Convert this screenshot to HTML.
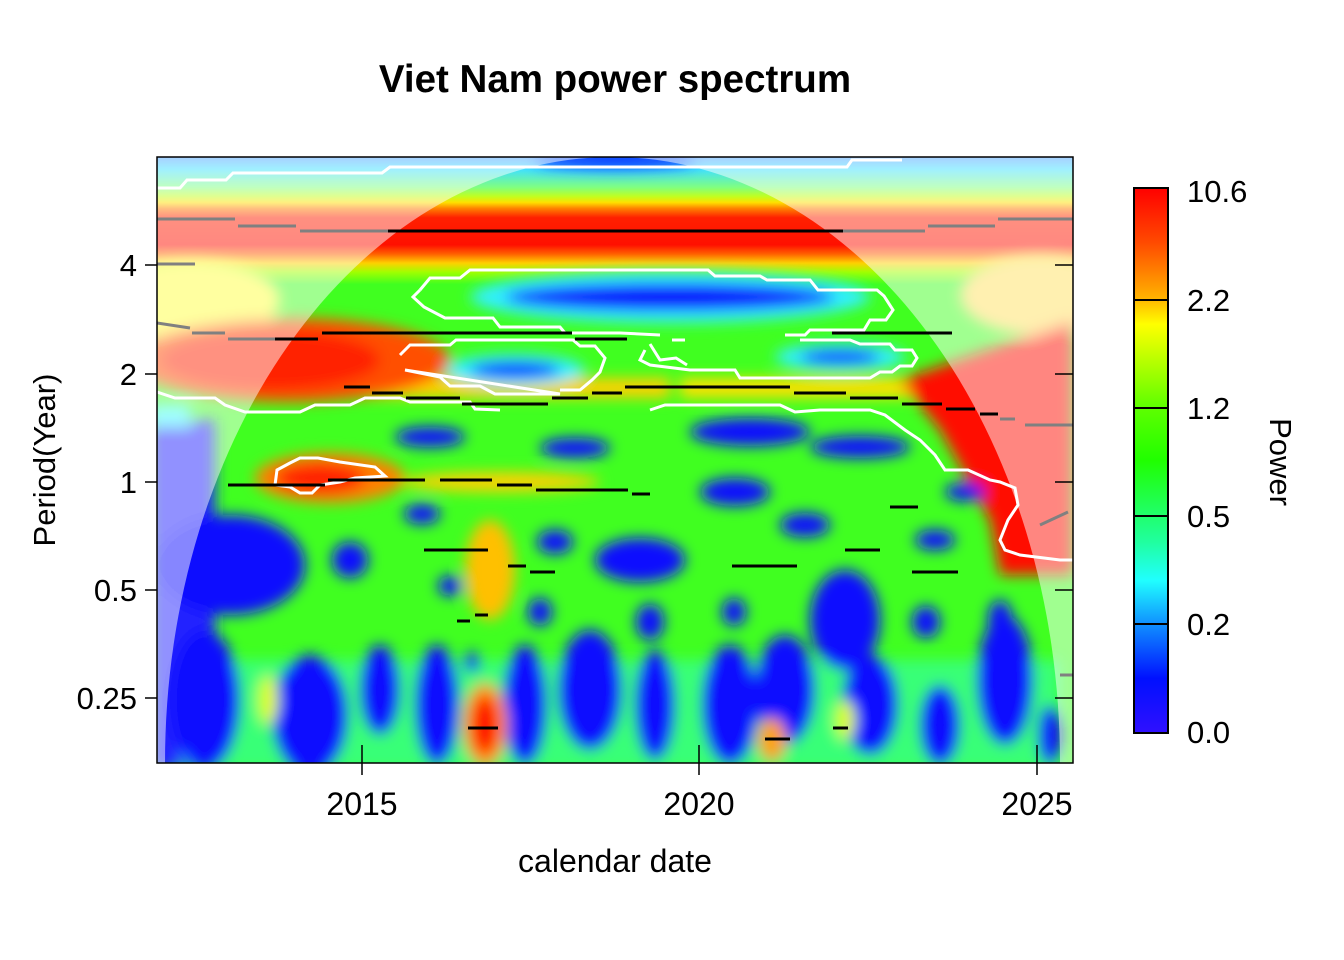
<!DOCTYPE html>
<html><head><meta charset="utf-8"><style>
html,body{margin:0;padding:0;background:#fff;}
svg{display:block;font-family:"Liberation Sans",Arial,sans-serif;}
</style></head><body>
<svg width="1344" height="960" viewBox="0 0 1344 960" xmlns="http://www.w3.org/2000/svg">
<defs>
<filter id="b" x="-20%" y="-20%" width="140%" height="140%"><feGaussianBlur stdDeviation="7"/></filter>
<clipPath id="pc"><rect x="157" y="157" width="916" height="606"/></clipPath>
<linearGradient id="cb" x1="0" y1="0" x2="0" y2="1">
<stop offset="0" stop-color="#ff0000"/>
<stop offset="0.1" stop-color="#ff4a00"/>
<stop offset="0.2" stop-color="#ffb000"/>
<stop offset="0.25" stop-color="#ffff00"/>
<stop offset="0.4" stop-color="#60ff00"/>
<stop offset="0.5" stop-color="#20ff00"/>
<stop offset="0.65" stop-color="#20ffa0"/>
<stop offset="0.72" stop-color="#20ffff"/>
<stop offset="0.8" stop-color="#1090ff"/>
<stop offset="0.9" stop-color="#0010ff"/>
<stop offset="1" stop-color="#3010ff"/>
</linearGradient>
<linearGradient id="topg" x1="0" y1="0" x2="0" y2="1">
<stop offset="0" stop-color="#50a0ff"/>
<stop offset="0.02" stop-color="#40e0ff"/>
<stop offset="0.05" stop-color="#80ff80"/>
<stop offset="0.065" stop-color="#c0ff20"/>
<stop offset="0.075" stop-color="#ffe000"/>
<stop offset="0.085" stop-color="#ff8000"/>
<stop offset="0.1" stop-color="#ff2000"/>
<stop offset="0.145" stop-color="#ff1000"/>
<stop offset="0.16" stop-color="#ff6000"/>
<stop offset="0.175" stop-color="#ffd000"/>
<stop offset="0.19" stop-color="#a0ff00"/>
<stop offset="0.21" stop-color="#40ff20"/>
<stop offset="1" stop-color="#40ff20"/>
</linearGradient>
</defs>
<text x="615" y="92" font-size="38.5" font-weight="bold" text-anchor="middle">Viet Nam power spectrum</text>
<g clip-path="url(#pc)">
<rect x="157" y="157" width="916" height="606" fill="url(#topg)"/>
<g filter="url(#b)">
<ellipse cx="615" cy="160" rx="80" ry="8" fill="#0030ff"/>
<ellipse cx="190" cy="300" rx="90" ry="40" fill="#ffff40"/>
<ellipse cx="1040" cy="295" rx="80" ry="40" fill="#ffe060"/>
<ellipse cx="670" cy="297" rx="200" ry="26" fill="#30f0ff"/>
<ellipse cx="670" cy="297" rx="165" ry="14" fill="#1010ff"/>
<rect x="250" y="378" width="420" height="20" fill="#ffd000"/>
<rect x="680" y="378" width="260" height="20" fill="#ffe000"/>
<ellipse cx="290" cy="360" rx="160" ry="42" fill="#ff5000"/>
<ellipse cx="270" cy="360" rx="110" ry="30" fill="#ff2000"/>
<ellipse cx="515" cy="370" rx="70" ry="16" fill="#30f0ff"/>
<ellipse cx="515" cy="370" rx="45" ry="8" fill="#1010ff"/>
<ellipse cx="840" cy="357" rx="65" ry="14" fill="#30f0ff"/>
<ellipse cx="840" cy="357" rx="40" ry="7" fill="#1010ff"/>
<polygon points="900,380 1073,320 1073,575 1000,575 990,520 940,430" fill="#ff1000"/>
<rect x="150" y="420" width="65" height="350" fill="#2020ff"/>
<rect x="150" y="405" width="40" height="20" fill="#40ffff"/>
<rect x="180" y="660" width="880" height="110" fill="#30ffb0" fill-opacity="0.6"/>
<ellipse cx="330" cy="478" rx="75" ry="25" fill="#ff8000"/>
<ellipse cx="320" cy="478" rx="45" ry="15" fill="#ff2000"/>
<ellipse cx="500" cy="482" rx="100" ry="10" fill="#ffd000"/>
<ellipse cx="490" cy="570" rx="25" ry="50" fill="#ffc000"/>
<ellipse cx="430" cy="437" rx="35" ry="10" fill="#1010ff"/>
<ellipse cx="575" cy="448" rx="35" ry="10" fill="#1010ff"/>
<ellipse cx="750" cy="432" rx="60" ry="14" fill="#1010ff"/>
<ellipse cx="860" cy="447" rx="50" ry="11" fill="#1010ff"/>
<ellipse cx="735" cy="492" rx="35" ry="14" fill="#1010ff"/>
<ellipse cx="965" cy="492" rx="20" ry="9" fill="#1010ff"/>
<ellipse cx="422" cy="514" rx="18" ry="10" fill="#1010ff"/>
<ellipse cx="555" cy="542" rx="18" ry="12" fill="#1010ff"/>
<ellipse cx="805" cy="525" rx="25" ry="12" fill="#1010ff"/>
<ellipse cx="935" cy="540" rx="20" ry="10" fill="#1010ff"/>
<ellipse cx="640" cy="560" rx="45" ry="22" fill="#1010ff"/>
<ellipse cx="230" cy="565" rx="75" ry="50" fill="#1010ff"/>
<ellipse cx="350" cy="560" rx="18" ry="18" fill="#1010ff"/>
<ellipse cx="450" cy="586" rx="12" ry="10" fill="#1010ff"/>
<ellipse cx="540" cy="612" rx="12" ry="14" fill="#1010ff"/>
<ellipse cx="650" cy="622" rx="14" ry="18" fill="#1010ff"/>
<ellipse cx="734" cy="612" rx="12" ry="14" fill="#1010ff"/>
<ellipse cx="845" cy="620" rx="35" ry="50" fill="#1010ff"/>
<ellipse cx="926" cy="622" rx="14" ry="16" fill="#1010ff"/>
<ellipse cx="1000" cy="620" rx="12" ry="20" fill="#1010ff"/>
<ellipse cx="205" cy="700" rx="35" ry="70" fill="#1010ff"/>
<ellipse cx="310" cy="715" rx="38" ry="60" fill="#1010ff"/>
<ellipse cx="380" cy="690" rx="20" ry="45" fill="#1010ff"/>
<ellipse cx="437" cy="705" rx="22" ry="60" fill="#1010ff"/>
<ellipse cx="472" cy="662" rx="8" ry="10" fill="#1010ff"/>
<ellipse cx="525" cy="705" rx="22" ry="60" fill="#1010ff"/>
<ellipse cx="590" cy="690" rx="32" ry="60" fill="#1010ff"/>
<ellipse cx="655" cy="705" rx="20" ry="55" fill="#1010ff"/>
<ellipse cx="730" cy="705" rx="28" ry="60" fill="#1010ff"/>
<ellipse cx="785" cy="690" rx="30" ry="55" fill="#1010ff"/>
<ellipse cx="870" cy="705" rx="28" ry="50" fill="#1010ff"/>
<ellipse cx="940" cy="725" rx="20" ry="40" fill="#1010ff"/>
<ellipse cx="1005" cy="680" rx="28" ry="65" fill="#1010ff"/>
<ellipse cx="1050" cy="735" rx="12" ry="30" fill="#1010ff"/>
<ellipse cx="485" cy="725" rx="22" ry="42" fill="#ffa000"/>
<ellipse cx="485" cy="725" rx="14" ry="30" fill="#ff1000"/>
<ellipse cx="772" cy="740" rx="14" ry="22" fill="#ffa000"/>
<ellipse cx="845" cy="720" rx="10" ry="20" fill="#e0ff00"/>
<ellipse cx="268" cy="700" rx="10" ry="25" fill="#e0ff00"/>
</g>
<path d="M157,157 H1073 V763 H1060 A447.5,606 0 0 0 165,763 H157 Z" fill="#fff" fill-opacity="0.5"/>
<g fill="none" stroke="#fff" stroke-width="3">
<path d="M157,188 H180 L187,180 H226 L233,173 H382 L390,167 H847 L852,160 H902"/>
<path d="M420,290 L430,278 H460 L470,270 H708 L715,276 H760 L767,280 H810 L818,290 H877 L884,296 L893,310 L886,320 H870 L864,330 H810 L805,335 H785"/>
<path d="M420,290 L413,297 L424,307 L445,318 H493 L500,327 H560 L565,333 H620 L660,335"/>
<path d="M672,340 L685,340 M650,344 L660,360 L676,358 L687,365"/>
<path d="M400,355 L410,345 H450 L456,340 H573 L580,346 H595 L605,358 L600,372 L592,380 L580,390 H560 M560,394 H495 L480,386 H450 L440,377 L405,370 Z"/>
<path d="M645,350 L640,360 L650,365 L690,370 H735 L740,378 H870 L880,372 H892 L900,366 H912 L917,358 L912,350 H895 L890,344 H860 L850,340 H800"/>
<path d="M157,392 L175,398 H215 L225,405 L245,412 H300 L315,405 H350 L365,398 H400 L410,402 H470 L475,409 L500,410 M650,410 L665,405 H780 L795,412 L820,410 H870 L885,415 L905,430 L920,440 L935,455 L945,470 H968 L990,480 L1000,482 L1015,488 L1018,505 L1008,520 L1000,540 L1005,550 L1020,555 L1060,560 H1073"/>
<path d="M290,463 L277,470 L275,485 L290,487 L300,493 L312,493 L320,485 L340,482 L355,478 L385,476 L375,467 L340,462 L318,458 H300 Z"/>
</g>
<g stroke="#000" stroke-width="3" fill="none">
<line x1="388" y1="231" x2="843" y2="231"/>
<line x1="275" y1="339" x2="318" y2="339"/>
<line x1="322" y1="333" x2="572" y2="333"/>
<line x1="575" y1="339" x2="627" y2="339"/>
<line x1="832" y1="333" x2="952" y2="333"/>
<line x1="344" y1="387" x2="370" y2="387"/>
<line x1="372" y1="393" x2="403" y2="393"/>
<line x1="406" y1="398" x2="460" y2="398"/>
<line x1="462" y1="404" x2="548" y2="404"/>
<line x1="552" y1="398" x2="588" y2="398"/>
<line x1="592" y1="393" x2="622" y2="393"/>
<line x1="625" y1="387" x2="790" y2="387"/>
<line x1="794" y1="393" x2="846" y2="393"/>
<line x1="850" y1="398" x2="898" y2="398"/>
<line x1="902" y1="404" x2="942" y2="404"/>
<line x1="946" y1="409" x2="975" y2="409"/>
<line x1="980" y1="414" x2="998" y2="414"/>
<line x1="228" y1="485" x2="325" y2="485"/>
<line x1="328" y1="480" x2="425" y2="480"/>
<line x1="440" y1="480" x2="492" y2="480"/>
<line x1="497" y1="485" x2="532" y2="485"/>
<line x1="536" y1="490" x2="628" y2="490"/>
<line x1="632" y1="494" x2="650" y2="494"/>
<line x1="890" y1="507" x2="918" y2="507"/>
<line x1="424" y1="550" x2="488" y2="550"/>
<line x1="508" y1="566" x2="526" y2="566"/>
<line x1="530" y1="572" x2="555" y2="572"/>
<line x1="732" y1="566" x2="797" y2="566"/>
<line x1="845" y1="550" x2="880" y2="550"/>
<line x1="912" y1="572" x2="958" y2="572"/>
<line x1="457" y1="621" x2="470" y2="621"/>
<line x1="475" y1="615" x2="488" y2="615"/>
<line x1="468" y1="728" x2="498" y2="728"/>
<line x1="765" y1="739" x2="790" y2="739"/>
<line x1="833" y1="728" x2="848" y2="728"/>
</g>
<g stroke="#808080" stroke-width="3">
<line x1="157" y1="219" x2="235" y2="219"/>
<line x1="238" y1="226" x2="296" y2="226"/>
<line x1="300" y1="231" x2="388" y2="231"/>
<line x1="843" y1="231" x2="925" y2="231"/>
<line x1="928" y1="226" x2="995" y2="226"/>
<line x1="998" y1="219" x2="1073" y2="219"/>
<line x1="157" y1="264" x2="195" y2="264"/>
<line x1="157" y1="323" x2="190" y2="328"/>
<line x1="192" y1="333" x2="225" y2="333"/>
<line x1="228" y1="339" x2="275" y2="339"/>
<line x1="1000" y1="419" x2="1015" y2="419"/>
<line x1="1025" y1="425" x2="1073" y2="425"/>
<line x1="1040" y1="525" x2="1068" y2="512"/>
<line x1="1060" y1="675" x2="1073" y2="675"/>
</g>
</g>
<rect x="157" y="157" width="916" height="606" fill="none" stroke="#000" stroke-width="1.5"/>
<g stroke="#000" stroke-width="1.5">
<line x1="145" y1="265" x2="157" y2="265"/><line x1="145" y1="374" x2="157" y2="374"/><line x1="145" y1="482" x2="157" y2="482"/><line x1="145" y1="590" x2="157" y2="590"/><line x1="145" y1="698" x2="157" y2="698"/>
<line x1="1055" y1="265" x2="1073" y2="265"/><line x1="1055" y1="374" x2="1073" y2="374"/><line x1="1055" y1="482" x2="1073" y2="482"/><line x1="1055" y1="590" x2="1073" y2="590"/><line x1="1055" y1="698" x2="1073" y2="698"/>
<line x1="362" y1="745" x2="362" y2="775"/><line x1="699" y1="745" x2="699" y2="775"/><line x1="1037" y1="745" x2="1037" y2="775"/>
</g>
<g font-size="31" text-anchor="end">
<text x="137" y="276">4</text><text x="137" y="385">2</text><text x="137" y="493">1</text><text x="137" y="601">0.5</text><text x="137" y="709">0.25</text>
</g>
<g font-size="32" text-anchor="middle">
<text x="362" y="815">2015</text><text x="699" y="815">2020</text><text x="1037" y="815">2025</text>
<text x="615" y="872">calendar date</text>
</g>
<text transform="translate(55,460) rotate(-90)" font-size="31" text-anchor="middle">Period(Year)</text>
<rect x="1134" y="188" width="34" height="545" fill="url(#cb)" stroke="#000" stroke-width="2"/>
<g stroke="#000" stroke-width="2">
<line x1="1134" y1="300" x2="1168" y2="300"/><line x1="1134" y1="408" x2="1168" y2="408"/><line x1="1134" y1="516" x2="1168" y2="516"/><line x1="1134" y1="624" x2="1168" y2="624"/>
</g>
<g font-size="31">
<text x="1187" y="202">10.6</text><text x="1187" y="311">2.2</text><text x="1187" y="419">1.2</text><text x="1187" y="527">0.5</text><text x="1187" y="635">0.2</text><text x="1187" y="743">0.0</text>
</g>
<text transform="translate(1270,462) rotate(90)" font-size="31" text-anchor="middle">Power</text>
</svg>
</body></html>
